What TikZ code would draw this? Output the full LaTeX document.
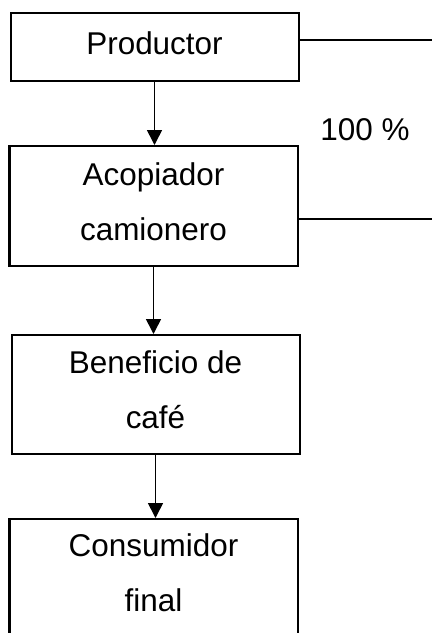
\documentclass[tikz,border=0pt]{standalone}
\usepackage{fontspec}
\setmainfont{Liberation Sans}
\usetikzlibrary{arrows.meta}

\begin{document}
\begin{tikzpicture}[x=0.375pt, y=-0.375pt]
        % Define pixel unit
        \def\u{0.375pt}
        \tikzset{
            box/.style={draw, line width=0.75pt, inner xsep=0pt, inner ysep=15*\u,
                align=center, minimum width=288*\u,
                font=\fontsize{11.8pt}{20.6pt}\selectfont},
            flow/.style={line width=0.6pt, -{Triangle[width=15*\u, length=15*\u]}},
            side/.style={line width=0.6pt}
        }
        \path[use as bounding box, clip] (0,0) rectangle (432,633);
        % Draw the boxes of the chain
        \node[box, minimum height=68*\u, text depth=7*\u] (prod) at (154.5,46.5) {Productor};
        \node[box, minimum height=120*\u, text depth=9*\u] (acop) at (153.5,206) {Acopiador\\camionero};
        \node[box, minimum height=119*\u, text depth=9*\u] (bene) at (155.5,394.5) {Beneficio de\\café};
        \node[box, anchor=north, text depth=140*\u] (cons) at (153.5,518) {Consumidor\\final};
        % Draw the arrows down the chain
        \draw[flow] (prod.south) -- (prod.south |- acop.north);
        \draw[flow] (acop.south) -- (acop.south |- bene.north);
        \draw[flow] (bene.south) -- (bene.south |- cons.north);
        % Draw the lines going out to the right
        \coordinate (pout) at (432,40);
        \coordinate (aout) at (432,219);
        \draw[side] (pout -| prod.east) -- (pout);
        \draw[side] (aout -| acop.east) -- (aout);
        \node[font=\fontsize{11.8pt}{14pt}\selectfont, anchor=base] (pct) at (365,140) {100 \%};
\end{tikzpicture}
\end{document}
